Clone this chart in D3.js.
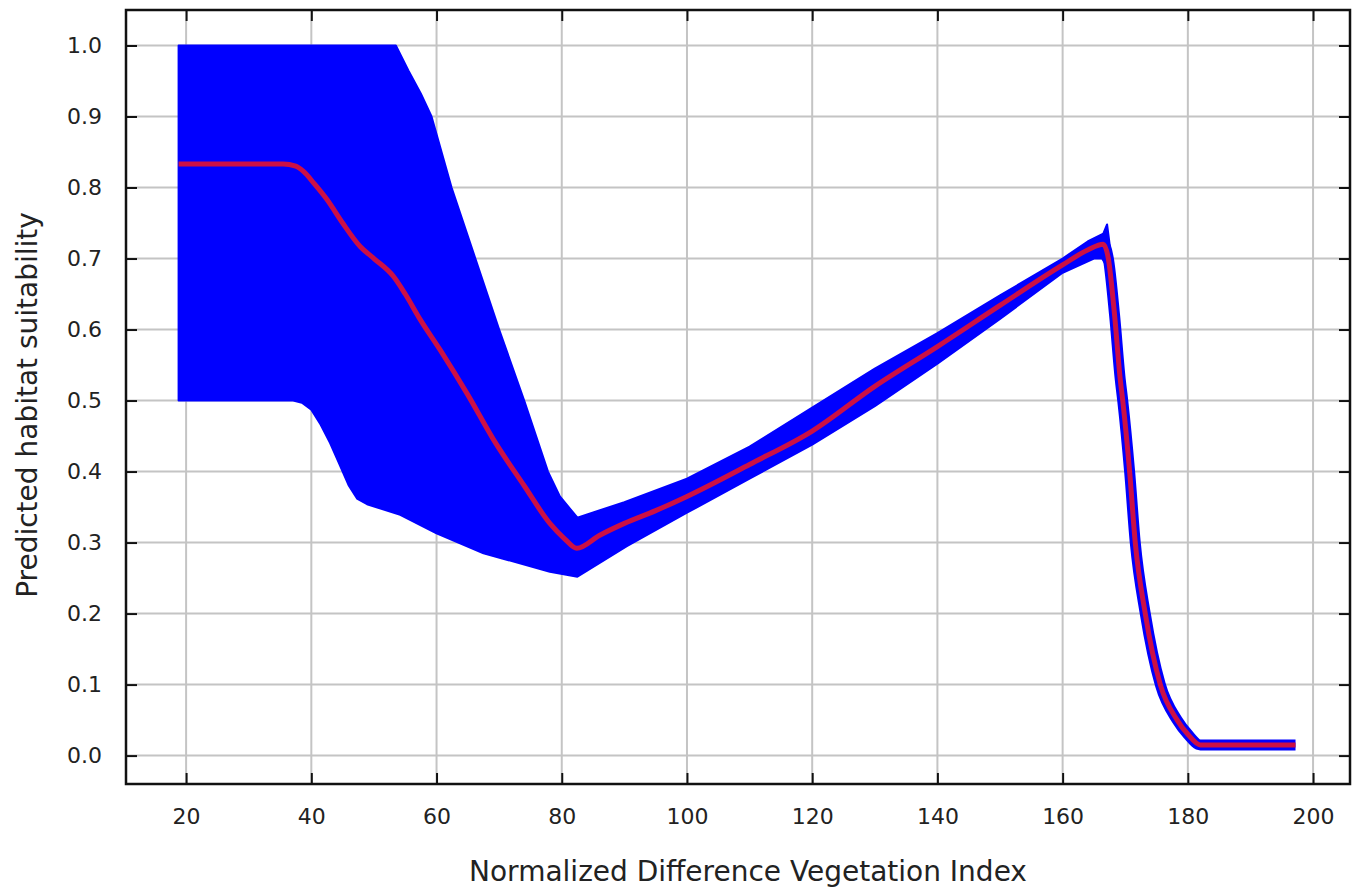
<!DOCTYPE html>
<html>
<head>
<meta charset="utf-8">
<script src="https://cdn.jsdelivr.net/npm/d3@7"></script>
<style>
  body { margin: 0; background: #ffffff; }
  svg { display: block; }
  text { font-family: 'DejaVu Sans', sans-serif; fill: #222; }
</style>
</head>
<body>
<svg id="canvas" width="1361" height="893"></svg>
<script>
// response curve
let meanX = [18.8, 35.5, 37.5, 38.7, 40.5, 42.5, 45, 47.8, 50, 53.1, 55, 57.4, 60.6, 65, 69.1, 74, 78.1, 80.5, 82.4,
             86, 90, 95, 100, 110, 120, 130, 140, 150, 160, 164, 166.5, 167.3, 168.3, 169.2, 169.6, 170.7, 171.6,
             173.2, 175.6, 178.3, 180, 182, 197.2]
let meanY = [0.833, 0.833, 0.830, 0.823, 0.805, 0.783, 0.75, 0.717, 0.70, 0.675, 0.65, 0.614, 0.571, 0.508, 0.445, 0.38, 0.327, 0.305, 0.292,
             0.31, 0.327, 0.345, 0.365, 0.41, 0.457, 0.52, 0.576, 0.634, 0.691, 0.712, 0.72, 0.70, 0.62, 0.53, 0.5, 0.4, 0.3,
             0.2, 0.1, 0.05, 0.03, 0.015, 0.015]

// envelope of the blue band (the tail after the peak is the thick blue stroke)
let upperX = [18.8, 53.5, 55.5, 57.5, 59.2, 60.8, 62.4, 66.2, 70, 74, 77.8, 79.7, 82.5, 90, 100, 110, 120, 130, 140, 150, 160, 164, 166.5, 167.1, 167.8]
let upperY = [1.0, 1.0, 0.965, 0.932, 0.9, 0.85, 0.8, 0.7, 0.6, 0.5, 0.4, 0.365, 0.335, 0.357, 0.39, 0.435, 0.49, 0.545, 0.595, 0.648, 0.70, 0.724, 0.735, 0.748, 0.70]

let lowerX = [18.8, 37.1, 38.5, 40, 41.5, 43, 44.5, 46, 47.3, 48.9, 54.2, 60, 67.5, 78.1, 82.5, 90.4, 100, 110, 120, 130, 140, 150, 160, 165, 166.3, 167]
let lowerY = [0.5, 0.5, 0.497, 0.487, 0.466, 0.44, 0.41, 0.38, 0.362, 0.354, 0.339, 0.313, 0.285, 0.259, 0.252, 0.295, 0.342, 0.39, 0.438, 0.492, 0.552, 0.615, 0.68, 0.70, 0.70, 0.69]

let xTicks = [20, 40, 60, 80, 100, 120, 140, 160, 180, 200]
let yTicks = [0.0, 0.1, 0.2, 0.3, 0.4, 0.5, 0.6, 0.7, 0.8, 0.9, 1.0]

let canvas = d3.select('#canvas')

let plotLeft = 126
let plotRight = 1350
let plotTop = 10
let plotBottom = 784

let xScale = d3.scaleLinear()
               .domain([10.4, 205.9])
               .range([plotLeft, plotRight])

let yScale = d3.scaleLinear()
               .domain([-0.04, 1.05])
               .range([plotBottom, plotTop])

// grid
canvas.append('g')
      .selectAll('line')
      .data(xTicks)
      .enter()
      .append('line')
      .attr('x1', (d) => xScale(d))
      .attr('x2', (d) => xScale(d))
      .attr('y1', plotTop)
      .attr('y2', plotBottom)
      .attr('stroke', '#c4c4c4')
      .attr('stroke-width', 2)

canvas.append('g')
      .selectAll('line')
      .data(yTicks)
      .enter()
      .append('line')
      .attr('x1', plotLeft)
      .attr('x2', plotRight)
      .attr('y1', (d) => yScale(d))
      .attr('y2', (d) => yScale(d))
      .attr('stroke', '#c4c4c4')
      .attr('stroke-width', 2)

// band: upper edge forward, lower edge back
let bandPoints = upperX.map((x, i) => [x, upperY[i]])
                       .concat(lowerX.map((x, i) => [x, lowerY[i]]).reverse())

let bandLine = d3.line()
                 .x((d) => xScale(d[0]))
                 .y((d) => yScale(d[1]))
                 .curve(d3.curveLinearClosed)

canvas.append('path')
      .attr('d', bandLine(bandPoints))
      .attr('fill', '#0000ff')
      .attr('stroke', '#0000ff')
      .attr('stroke-width', 2)
      .attr('stroke-linejoin', 'round')

let meanPoints = meanX.map((x, i) => [x, meanY[i]])

let meanLine = d3.line()
                 .x((d) => xScale(d[0]))
                 .y((d) => yScale(d[1]))
                 .curve(d3.curveMonotoneX)

canvas.append('path')
      .attr('d', meanLine(meanPoints))
      .attr('fill', 'none')
      .attr('stroke', '#0000ff')
      .attr('stroke-width', 11)
      .attr('stroke-linejoin', 'round')

canvas.append('path')
      .attr('d', meanLine(meanPoints))
      .attr('fill', 'none')
      .attr('stroke', '#cc1045')
      .attr('stroke-width', 5)
      .attr('stroke-linejoin', 'round')

// axes, ticks pointing inward on all four sides
let xAxisBottom = d3.axisBottom(xScale).tickValues(xTicks).tickSize(-11).tickPadding(24)
let xAxisTop = d3.axisTop(xScale).tickValues(xTicks).tickSize(-11).tickFormat('')
let yAxisLeft = d3.axisLeft(yScale).tickValues(yTicks).tickSize(-11).tickPadding(24).tickFormat(d3.format('.1f'))
let yAxisRight = d3.axisRight(yScale).tickValues(yTicks).tickSize(-11).tickFormat('')

let styleAxis = (g) => {
  g.select('.domain').remove()
  g.selectAll('.tick line').attr('stroke', '#111').attr('stroke-width', 2)
  g.selectAll('.tick text')
   .attr('font-family', "'DejaVu Sans', sans-serif")
   .attr('font-size', 22)
   .attr('fill', '#222')
}

canvas.append('g').attr('transform', 'translate(0,' + plotBottom + ')').call(xAxisBottom).call(styleAxis)
canvas.append('g').attr('transform', 'translate(0,' + plotTop + ')').call(xAxisTop).call(styleAxis)
canvas.append('g').attr('transform', 'translate(' + plotLeft + ',0)').call(yAxisLeft).call(styleAxis)
canvas.append('g').attr('transform', 'translate(' + plotRight + ',0)').call(yAxisRight).call(styleAxis)

canvas.append('rect')
      .attr('x', plotLeft)
      .attr('y', plotTop)
      .attr('width', plotRight - plotLeft)
      .attr('height', plotBottom - plotTop)
      .attr('fill', 'none')
      .attr('stroke', '#111')
      .attr('stroke-width', 2.5)

canvas.append('text')
      .text('Normalized Difference Vegetation Index')
      .attr('x', (plotLeft + plotRight) / 2 + 10)
      .attr('y', 881)
      .attr('text-anchor', 'middle')
      .attr('font-size', 28)

canvas.append('text')
      .text('Predicted habitat suitability')
      .attr('transform', 'translate(37,' + ((plotTop + plotBottom) / 2 + 8) + ') rotate(-90)')
      .attr('text-anchor', 'middle')
      .attr('font-size', 28)
</script>
</body>
</html>
